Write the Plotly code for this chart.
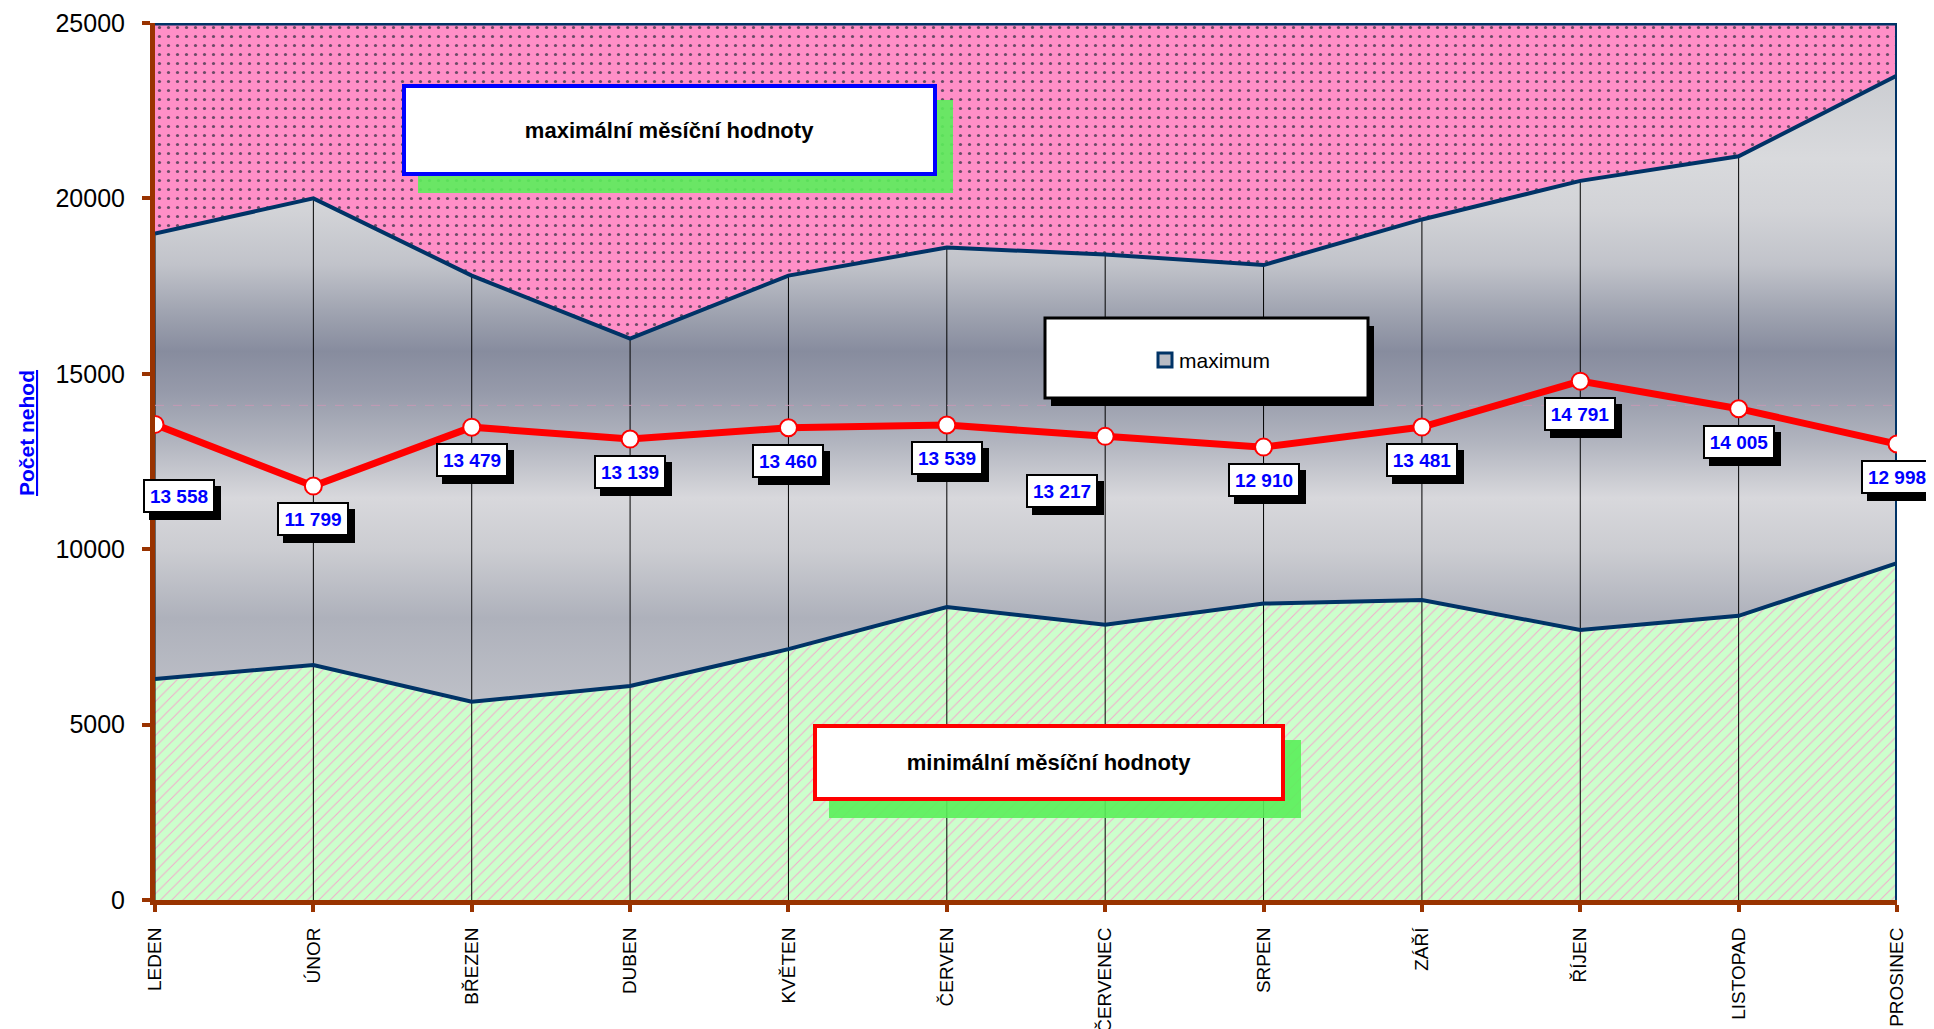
import plotly.graph_objects as go

# ---------------- data ----------------
months = ["LEDEN", "ÚNOR", "BŘEZEN", "DUBEN", "KVĚTEN", "ČERVEN",
          "ČERVENEC", "SRPEN", "ZÁŘÍ", "ŘÍJEN", "LISTOPAD", "PROSINEC"]
mean_vals = [13558, 11799, 13479, 13139, 13460, 13539,
             13217, 12910, 13481, 14791, 14005, 12998]
max_vals = [19000, 20000, 17800, 16000, 17800, 18600,
            18400, 18100, 19400, 20500, 21200, 23500]
min_vals = [6300, 6700, 5650, 6100, 7150, 8350,
            7850, 8450, 8550, 7700, 8100, 9600]
ref_level = 14100
y_top = 25000
y_ticks = [0, 5000, 10000, 15000, 20000, 25000]

# ---------------- layout geometry (screen pixels) ----------------
OFF = 8                      # default page margin around the figure
W, H = 1926, 1021
PLOT_L, PLOT_R, PLOT_T, PLOT_B = 155, 1897, 23, 900   # screen coords
ML = PLOT_L - OFF
MT = PLOT_T - OFF
MR = W - (PLOT_R - OFF)
MB = H - (PLOT_B - OFF)
PW, PH = PLOT_R - PLOT_L, PLOT_B - PLOT_T

FONT = "Liberation Sans, Arial, sans-serif"
NAVY = "#003366"
BROWN = "#993300"


def px_x(x):
    return (x - PLOT_L) / PW


def px_y(y):
    return (PLOT_B - y) / PH


fig = go.Figure()

# green area (0 -> min)
fig.add_trace(go.Scatter(
    x=months, y=min_vals, mode="lines", line=dict(width=0, color=NAVY),
    fill="tozeroy", fillcolor="#ccffcc",
    fillpattern=dict(shape="/", bgcolor="#ccffcc", fgcolor="#f4a8cc",
                     size=8, solidity=0.12, fillmode="replace"),
    showlegend=False, hoverinfo="skip"))

# gray metallic area (min -> max)
fig.add_trace(go.Scatter(
    x=months, y=max_vals, mode="lines", line=dict(width=0, color=NAVY),
    fill="tonexty",
    fillgradient=dict(type="vertical", start=5000, stop=24000, colorscale=[
        [0.00, "#c2c4cb"], [0.16, "#aeb1bb"], [0.26, "#cbccd1"],
        [0.34, "#d8d8dc"], [0.42, "#b3b6c0"], [0.50, "#969aaa"],
        [0.56, "#878c9e"], [0.62, "#a0a4b1"], [0.69, "#c1c3ca"],
        [0.77, "#d2d3d7"], [0.85, "#d9dadd"], [1.00, "#c8cacf"]]),
    name="maximum", showlegend=False, hoverinfo="skip"))

# pink area (max -> top)
fig.add_trace(go.Scatter(
    x=months, y=[y_top] * len(months), mode="lines",
    line=dict(width=5, color=NAVY),
    fill="tonexty", fillcolor="#ff8fc7",
    fillpattern=dict(shape=".", bgcolor="#ff8fc7", fgcolor="#6b4a66",
                     size=9, solidity=0.1, fillmode="replace"),
    showlegend=False, hoverinfo="skip"))

# vertical drop lines 0 -> max
dx, dy = [], []
for m, v in zip(months, max_vals):
    dx += [m, m, None]
    dy += [0, v, None]
fig.add_trace(go.Scatter(x=dx, y=dy, mode="lines",
                         line=dict(color="black", width=1),
                         showlegend=False, hoverinfo="skip"))

# faint dashed reference line
fig.add_trace(go.Scatter(x=months, y=[ref_level] * len(months), mode="lines",
                         line=dict(color="#c49ab4", width=1, dash="dash"),
                         showlegend=False, hoverinfo="skip"))

# right border
fig.add_trace(go.Scatter(x=[months[-1], months[-1]], y=[0, y_top], mode="lines",
                         line=dict(color=NAVY, width=4),
                         showlegend=False, hoverinfo="skip"))

# min / max boundary lines on top
fig.add_trace(go.Scatter(x=months, y=min_vals, mode="lines",
                         line=dict(color=NAVY, width=4),
                         showlegend=False, hoverinfo="skip"))
fig.add_trace(go.Scatter(x=months, y=max_vals, mode="lines",
                         line=dict(color=NAVY, width=4),
                         showlegend=False, hoverinfo="skip"))

# mean line
fig.add_trace(go.Scatter(x=months, y=mean_vals, mode="lines+markers",
                         line=dict(color="#ff0000", width=7),
                         marker=dict(symbol="circle", size=17, color="white",
                                     line=dict(color="#ff0000", width=2)),
                         showlegend=False, hoverinfo="skip"))

# ---------------- annotations ----------------
annotations = []
label_offsets = {0: (24, -72), 6: (-43, -55)}
for i, (m, v) in enumerate(zip(months, mean_vals)):
    ox, oy = label_offsets.get(i, (0, -33))
    txt = f"{v:,}".replace(",", " ")
    common = dict(x=m, y=v, xref="x", yref="y", showarrow=False,
                  width=62, height=24, borderpad=3, borderwidth=2,
                  font=dict(family=FONT, size=19, color="#0000ff"))
    annotations.append(dict(common, text=f"<b>{txt}</b>", xshift=ox + 6, yshift=oy - 7,
                            bgcolor="black", bordercolor="black",
                            font=dict(family=FONT, size=19, color="black")))
    annotations.append(dict(common, text=f"<b>{txt}</b>", xshift=ox, yshift=oy,
                            bgcolor="white", bordercolor="black"))

# note boxes (screen pixel boxes)
shapes = []
notes = [
    ("maximální měsíční hodnoty", (402, 937, 84, 176), "#0000ff"),
    ("minimální měsíční hodnoty", (813, 1285, 724, 801), "#ff0000"),
]
for text, (x0, x1, y0, y1), bc in notes:
    shapes.append(dict(type="rect", xref="paper", yref="paper", layer="above",
                       x0=px_x(x0 + 16), x1=px_x(x1 + 16), y0=px_y(y1 + 17), y1=px_y(y0 + 16),
                       fillcolor="rgba(90,240,90,0.9)", line=dict(width=0)))
    annotations.append(dict(text=f"<b>{text}</b>", xref="paper", yref="paper",
                            x=px_x((x0 + x1) / 2), y=px_y((y0 + y1) / 2),
                            xanchor="center", yanchor="middle", showarrow=False,
                            width=x1 - x0 - 8, height=y1 - y0 - 8, borderpad=0,
                            borderwidth=4, bordercolor=bc, bgcolor="white",
                            font=dict(family=FONT, size=22, color="black")))

# legend box with key for the grey "maximum" band
lx0, lx1, ly0, ly1 = 1045, 1368, 318, 398
shapes.append(dict(type="rect", xref="paper", yref="paper", layer="above",
                   x0=px_x(lx0 + 6), x1=px_x(lx1 + 6), y0=px_y(ly1 + 8), y1=px_y(ly0 + 8),
                   fillcolor="black", line=dict(width=0)))
shapes.append(dict(type="rect", xref="paper", yref="paper", layer="above",
                   x0=px_x(lx0), x1=px_x(lx1), y0=px_y(ly1), y1=px_y(ly0),
                   fillcolor="white", line=dict(color="black", width=3)))
shapes.append(dict(type="rect", xref="paper", yref="paper", layer="above",
                   x0=px_x(1158), x1=px_x(1172), y0=px_y(367), y1=px_y(353),
                   fillcolor="#b8bbc4", line=dict(color=NAVY, width=3)))
annotations.append(dict(text="maximum", xref="paper", yref="paper",
                        x=px_x(1177), y=px_y(360), xanchor="left", yanchor="middle",
                        showarrow=False,
                        font=dict(family=FONT, size=21, color="black")))

# y axis title
annotations.append(dict(text="<b><u>Počet nehod</u></b>", xref="paper", yref="paper",
                        x=px_x(27), y=px_y(433), xanchor="center", yanchor="middle",
                        textangle=-90, showarrow=False,
                        font=dict(family=FONT, size=21, color="#0000ff")))

fig.update_layout(
    width=W, height=H,
    margin=dict(l=ML, r=MR, t=MT, b=MB, pad=0, autoexpand=False),
    paper_bgcolor="white", plot_bgcolor="white",
    showlegend=False,
    annotations=annotations,
    shapes=shapes,
    xaxis=dict(type="category", range=[0, len(months) - 1], automargin=False,
               showgrid=False, zeroline=False,
               showline=True, linecolor=BROWN, linewidth=5,
               ticks="outside", ticklen=7, tickwidth=4, tickcolor=BROWN,
               tickangle=-90, ticklabelstandoff=8,
               tickfont=dict(family=FONT, size=19, color="black")),
    yaxis=dict(range=[0, y_top], tickvals=y_ticks, tickformat="d", automargin=False,
               showgrid=False, zeroline=False,
               showline=True, linecolor=BROWN, linewidth=5,
               ticks="outside", ticklen=8, tickwidth=4, tickcolor=BROWN,
               ticklabelstandoff=12,
               tickfont=dict(family=FONT, size=25, color="black")),
)

fig.write_html("out.html")
